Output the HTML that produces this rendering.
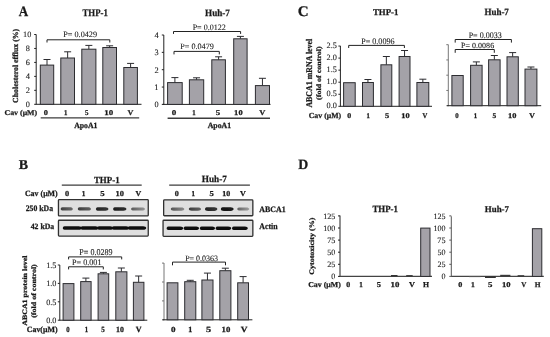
<!DOCTYPE html>
<html><head><meta charset="utf-8"><style>
html,body{margin:0;padding:0;background:#fff;}
svg{display:block;}
text{font-family:"Liberation Serif",serif;text-rendering:geometricPrecision;}
</style></head><body>
<svg width="550" height="337" viewBox="0 0 550 337">
<defs><filter id="bb" x="-20%" y="-200%" width="140%" height="500%"><feGaussianBlur stdDeviation="0.55"/></filter><linearGradient id="g1" x1="0" x2="1" y1="0" y2="0"><stop offset="0" stop-color="#3f3f3f"/><stop offset="0.5" stop-color="#555"/><stop offset="1" stop-color="#6a6a6a"/></linearGradient><linearGradient id="g2" x1="0" x2="1" y1="0" y2="0"><stop offset="0" stop-color="#3a3a3a"/><stop offset="0.5" stop-color="#4e4e4e"/><stop offset="1" stop-color="#616161"/></linearGradient><linearGradient id="g3" x1="0" x2="1" y1="0" y2="0"><stop offset="0" stop-color="#212121"/><stop offset="0.5" stop-color="#2c2c2c"/><stop offset="1" stop-color="#373737"/></linearGradient><linearGradient id="g4" x1="0" x2="1" y1="0" y2="0"><stop offset="0" stop-color="#1c1c1c"/><stop offset="0.5" stop-color="#262626"/><stop offset="1" stop-color="#2f2f2f"/></linearGradient><linearGradient id="g5" x1="0" x2="1" y1="0" y2="0"><stop offset="0" stop-color="#595959"/><stop offset="0.5" stop-color="#777"/><stop offset="1" stop-color="#949494"/></linearGradient><linearGradient id="g6" x1="0" x2="1" y1="0" y2="0"><stop offset="0" stop-color="#545454"/><stop offset="0.5" stop-color="#707070"/><stop offset="1" stop-color="#8c8c8c"/></linearGradient><linearGradient id="g7" x1="0" x2="1" y1="0" y2="0"><stop offset="0" stop-color="#3c3c3c"/><stop offset="0.5" stop-color="#505050"/><stop offset="1" stop-color="#646464"/></linearGradient><linearGradient id="g8" x1="0" x2="1" y1="0" y2="0"><stop offset="0" stop-color="#222222"/><stop offset="0.5" stop-color="#2e2e2e"/><stop offset="1" stop-color="#393939"/></linearGradient><linearGradient id="g9" x1="0" x2="1" y1="0" y2="0"><stop offset="0" stop-color="#121212"/><stop offset="0.5" stop-color="#181818"/><stop offset="1" stop-color="#1e1e1e"/></linearGradient><linearGradient id="g10" x1="0" x2="1" y1="0" y2="0"><stop offset="0" stop-color="#606060"/><stop offset="0.5" stop-color="#808080"/><stop offset="1" stop-color="#a0a0a0"/></linearGradient></defs>
<rect width="550" height="337" fill="#fff"/>
<g style="filter:blur(0.35px)">
<line x1="36.20" y1="34.50" x2="36.20" y2="104.80" stroke="#222" stroke-width="1.0"/>
<line x1="34.20" y1="104.30" x2="36.20" y2="104.30" stroke="#222" stroke-width="1.0"/>
<line x1="34.20" y1="90.34" x2="36.20" y2="90.34" stroke="#222" stroke-width="1.0"/>
<line x1="34.20" y1="76.38" x2="36.20" y2="76.38" stroke="#222" stroke-width="1.0"/>
<line x1="34.20" y1="62.42" x2="36.20" y2="62.42" stroke="#222" stroke-width="1.0"/>
<line x1="34.20" y1="48.46" x2="36.20" y2="48.46" stroke="#222" stroke-width="1.0"/>
<line x1="34.20" y1="34.50" x2="36.20" y2="34.50" stroke="#222" stroke-width="1.0"/>
<line x1="36.20" y1="104.30" x2="141.50" y2="104.30" stroke="#222" stroke-width="1.0"/>
<line x1="47.00" y1="59.50" x2="47.00" y2="65.10" stroke="#2c2c30" stroke-width="1.0"/>
<line x1="43.50" y1="59.50" x2="50.50" y2="59.50" stroke="#2c2c30" stroke-width="1.0"/>
<rect x="40.30" y="65.10" width="13.40" height="39.20" fill="#a4a2a8" stroke="#2c2c30" stroke-width="1.0"/>
<line x1="67.65" y1="51.80" x2="67.65" y2="58.00" stroke="#2c2c30" stroke-width="1.0"/>
<line x1="64.15" y1="51.80" x2="71.15" y2="51.80" stroke="#2c2c30" stroke-width="1.0"/>
<rect x="60.80" y="58.00" width="13.70" height="46.30" fill="#a4a2a8" stroke="#2c2c30" stroke-width="1.0"/>
<line x1="88.85" y1="45.40" x2="88.85" y2="49.20" stroke="#2c2c30" stroke-width="1.0"/>
<line x1="85.35" y1="45.40" x2="92.35" y2="45.40" stroke="#2c2c30" stroke-width="1.0"/>
<rect x="81.80" y="49.20" width="14.10" height="55.10" fill="#a4a2a8" stroke="#2c2c30" stroke-width="1.0"/>
<line x1="109.65" y1="45.80" x2="109.65" y2="47.50" stroke="#2c2c30" stroke-width="1.0"/>
<line x1="106.15" y1="45.80" x2="113.15" y2="45.80" stroke="#2c2c30" stroke-width="1.0"/>
<rect x="102.80" y="47.50" width="13.70" height="56.80" fill="#a4a2a8" stroke="#2c2c30" stroke-width="1.0"/>
<line x1="130.60" y1="63.40" x2="130.60" y2="67.50" stroke="#2c2c30" stroke-width="1.0"/>
<line x1="127.10" y1="63.40" x2="134.10" y2="63.40" stroke="#2c2c30" stroke-width="1.0"/>
<rect x="123.80" y="67.50" width="13.60" height="36.80" fill="#a4a2a8" stroke="#2c2c30" stroke-width="1.0"/>
<path d="M47.00,42.50 L47.00,39.80 L109.80,39.80 L109.80,42.50" fill="none" stroke="#222" stroke-width="1.0"/>
<line x1="40.70" y1="117.90" x2="139.20" y2="117.90" stroke="#3c3c3c" stroke-width="1.4"/>
<line x1="163.80" y1="35.00" x2="163.80" y2="104.90" stroke="#222" stroke-width="1.0"/>
<line x1="161.80" y1="104.40" x2="163.80" y2="104.40" stroke="#222" stroke-width="1.0"/>
<line x1="161.80" y1="87.05" x2="163.80" y2="87.05" stroke="#222" stroke-width="1.0"/>
<line x1="161.80" y1="69.70" x2="163.80" y2="69.70" stroke="#222" stroke-width="1.0"/>
<line x1="161.80" y1="52.35" x2="163.80" y2="52.35" stroke="#222" stroke-width="1.0"/>
<line x1="161.80" y1="35.00" x2="163.80" y2="35.00" stroke="#222" stroke-width="1.0"/>
<line x1="162.80" y1="104.40" x2="270.50" y2="104.40" stroke="#222" stroke-width="1.0"/>
<line x1="174.90" y1="77.60" x2="174.90" y2="82.60" stroke="#2c2c30" stroke-width="1.0"/>
<line x1="171.40" y1="77.60" x2="178.40" y2="77.60" stroke="#2c2c30" stroke-width="1.0"/>
<rect x="167.60" y="82.60" width="14.60" height="21.80" fill="#a4a2a8" stroke="#2c2c30" stroke-width="1.0"/>
<line x1="196.55" y1="77.80" x2="196.55" y2="79.80" stroke="#2c2c30" stroke-width="1.0"/>
<line x1="193.05" y1="77.80" x2="200.05" y2="77.80" stroke="#2c2c30" stroke-width="1.0"/>
<rect x="189.40" y="79.80" width="14.30" height="24.60" fill="#a4a2a8" stroke="#2c2c30" stroke-width="1.0"/>
<line x1="218.60" y1="56.80" x2="218.60" y2="59.80" stroke="#2c2c30" stroke-width="1.0"/>
<line x1="215.10" y1="56.80" x2="222.10" y2="56.80" stroke="#2c2c30" stroke-width="1.0"/>
<rect x="211.80" y="59.80" width="13.60" height="44.60" fill="#a4a2a8" stroke="#2c2c30" stroke-width="1.0"/>
<line x1="240.40" y1="36.40" x2="240.40" y2="38.80" stroke="#2c2c30" stroke-width="1.0"/>
<line x1="236.90" y1="36.40" x2="243.90" y2="36.40" stroke="#2c2c30" stroke-width="1.0"/>
<rect x="233.70" y="38.80" width="13.40" height="65.60" fill="#a4a2a8" stroke="#2c2c30" stroke-width="1.0"/>
<line x1="262.45" y1="78.30" x2="262.45" y2="85.60" stroke="#2c2c30" stroke-width="1.0"/>
<line x1="258.95" y1="78.30" x2="265.95" y2="78.30" stroke="#2c2c30" stroke-width="1.0"/>
<rect x="255.40" y="85.60" width="14.10" height="18.80" fill="#a4a2a8" stroke="#2c2c30" stroke-width="1.0"/>
<path d="M173.50,33.90 L173.50,31.50 L240.60,31.50 L240.60,33.90" fill="none" stroke="#222" stroke-width="1.0"/>
<path d="M174.00,54.40 L174.00,51.40 L219.30,51.40 L219.30,54.40" fill="none" stroke="#222" stroke-width="1.0"/>
<line x1="167.60" y1="118.20" x2="270.00" y2="118.20" stroke="#3c3c3c" stroke-width="1.4"/>
<line x1="340.40" y1="45.90" x2="340.40" y2="106.80" stroke="#222" stroke-width="1.0"/>
<line x1="338.40" y1="106.30" x2="340.40" y2="106.30" stroke="#222" stroke-width="1.0"/>
<line x1="338.40" y1="94.25" x2="340.40" y2="94.25" stroke="#222" stroke-width="1.0"/>
<line x1="338.40" y1="82.20" x2="340.40" y2="82.20" stroke="#222" stroke-width="1.0"/>
<line x1="338.40" y1="70.15" x2="340.40" y2="70.15" stroke="#222" stroke-width="1.0"/>
<line x1="338.40" y1="58.10" x2="340.40" y2="58.10" stroke="#222" stroke-width="1.0"/>
<line x1="338.40" y1="46.05" x2="340.40" y2="46.05" stroke="#222" stroke-width="1.0"/>
<line x1="340.40" y1="106.30" x2="432.00" y2="106.30" stroke="#222" stroke-width="1.0"/>
<rect x="343.60" y="82.70" width="11.60" height="23.60" fill="#a4a2a8" stroke="#2c2c30" stroke-width="1.0"/>
<line x1="367.95" y1="79.50" x2="367.95" y2="82.50" stroke="#2c2c30" stroke-width="1.0"/>
<line x1="364.45" y1="79.50" x2="371.45" y2="79.50" stroke="#2c2c30" stroke-width="1.0"/>
<rect x="362.50" y="82.50" width="10.90" height="23.80" fill="#a4a2a8" stroke="#2c2c30" stroke-width="1.0"/>
<line x1="386.35" y1="56.50" x2="386.35" y2="64.80" stroke="#2c2c30" stroke-width="1.0"/>
<line x1="382.85" y1="56.50" x2="389.85" y2="56.50" stroke="#2c2c30" stroke-width="1.0"/>
<rect x="380.90" y="64.80" width="10.90" height="41.50" fill="#a4a2a8" stroke="#2c2c30" stroke-width="1.0"/>
<line x1="404.55" y1="50.50" x2="404.55" y2="56.50" stroke="#2c2c30" stroke-width="1.0"/>
<line x1="401.05" y1="50.50" x2="408.05" y2="50.50" stroke="#2c2c30" stroke-width="1.0"/>
<rect x="399.10" y="56.50" width="10.90" height="49.80" fill="#a4a2a8" stroke="#2c2c30" stroke-width="1.0"/>
<line x1="422.85" y1="79.20" x2="422.85" y2="82.50" stroke="#2c2c30" stroke-width="1.0"/>
<line x1="419.35" y1="79.20" x2="426.35" y2="79.20" stroke="#2c2c30" stroke-width="1.0"/>
<rect x="416.90" y="82.50" width="11.90" height="23.80" fill="#a4a2a8" stroke="#2c2c30" stroke-width="1.0"/>
<path d="M348.70,48.00 L348.70,45.40 L404.40,45.40 L404.40,48.00" fill="none" stroke="#222" stroke-width="1.0"/>
<line x1="448.30" y1="44.60" x2="448.30" y2="106.20" stroke="#777" stroke-width="1.0"/>
<line x1="446.30" y1="105.70" x2="448.30" y2="105.70" stroke="#777" stroke-width="1.0"/>
<line x1="446.30" y1="90.45" x2="448.30" y2="90.45" stroke="#777" stroke-width="1.0"/>
<line x1="446.30" y1="75.20" x2="448.30" y2="75.20" stroke="#777" stroke-width="1.0"/>
<line x1="446.30" y1="59.95" x2="448.30" y2="59.95" stroke="#777" stroke-width="1.0"/>
<line x1="446.30" y1="44.70" x2="448.30" y2="44.70" stroke="#777" stroke-width="1.0"/>
<line x1="447.10" y1="105.70" x2="541.20" y2="105.70" stroke="#222" stroke-width="1.0"/>
<rect x="451.90" y="75.50" width="11.30" height="30.20" fill="#a4a2a8" stroke="#2c2c30" stroke-width="1.0"/>
<line x1="476.35" y1="61.90" x2="476.35" y2="65.30" stroke="#2c2c30" stroke-width="1.0"/>
<line x1="472.85" y1="61.90" x2="479.85" y2="61.90" stroke="#2c2c30" stroke-width="1.0"/>
<rect x="470.60" y="65.30" width="11.50" height="40.40" fill="#a4a2a8" stroke="#2c2c30" stroke-width="1.0"/>
<line x1="494.35" y1="55.50" x2="494.35" y2="59.80" stroke="#2c2c30" stroke-width="1.0"/>
<line x1="490.85" y1="55.50" x2="497.85" y2="55.50" stroke="#2c2c30" stroke-width="1.0"/>
<rect x="488.60" y="59.80" width="11.50" height="45.90" fill="#a4a2a8" stroke="#2c2c30" stroke-width="1.0"/>
<line x1="512.65" y1="52.60" x2="512.65" y2="56.80" stroke="#2c2c30" stroke-width="1.0"/>
<line x1="509.15" y1="52.60" x2="516.15" y2="52.60" stroke="#2c2c30" stroke-width="1.0"/>
<rect x="507.00" y="56.80" width="11.30" height="48.90" fill="#a4a2a8" stroke="#2c2c30" stroke-width="1.0"/>
<line x1="530.95" y1="67.00" x2="530.95" y2="69.10" stroke="#2c2c30" stroke-width="1.0"/>
<line x1="527.45" y1="67.00" x2="534.45" y2="67.00" stroke="#2c2c30" stroke-width="1.0"/>
<rect x="525.00" y="69.10" width="11.90" height="36.60" fill="#a4a2a8" stroke="#2c2c30" stroke-width="1.0"/>
<path d="M455.20,42.60 L455.20,39.50 L511.40,39.50 L511.40,42.60" fill="none" stroke="#222" stroke-width="1.0"/>
<path d="M455.20,52.80 L455.20,49.50 L494.30,49.50 L494.30,52.80" fill="none" stroke="#222" stroke-width="1.0"/>
<line x1="61.80" y1="185.10" x2="141.70" y2="185.10" stroke="#3c3c3c" stroke-width="1.4"/>
<line x1="169.20" y1="185.10" x2="249.90" y2="185.10" stroke="#3c3c3c" stroke-width="1.4"/>
<rect x="58.45" y="199.55" width="89.80" height="16.40" fill="#dfdfdf" stroke="#303030" stroke-width="1.3" rx="0.8"/>
<rect x="58.45" y="220.25" width="89.80" height="15.80" fill="#dfdfdf" stroke="#303030" stroke-width="1.3" rx="0.8"/>
<rect x="163.65" y="199.85" width="89.20" height="15.90" fill="#dfdfdf" stroke="#303030" stroke-width="1.3" rx="0.8"/>
<rect x="163.05" y="220.25" width="89.80" height="16.10" fill="#dfdfdf" stroke="#303030" stroke-width="1.3" rx="0.8"/>
<path d="M60.70,208.90 C60.70,207.62 61.90,207.30 63.70,207.30 L69.80,207.30 C71.60,207.30 72.80,207.94 72.80,208.90 C72.80,209.86 71.60,210.50 69.80,210.50 L63.70,210.50 C61.90,210.50 60.70,210.18 60.70,208.90 Z" fill="url(#g1)" filter="url(#bb)"/>
<path d="M77.80,208.90 C77.80,207.62 79.00,207.30 80.80,207.30 L87.90,207.30 C89.70,207.30 90.90,207.94 90.90,208.90 C90.90,209.86 89.70,210.50 87.90,210.50 L80.80,210.50 C79.00,210.50 77.80,210.18 77.80,208.90 Z" fill="url(#g2)" filter="url(#bb)"/>
<path d="M95.90,208.90 C95.90,207.50 97.10,207.15 98.90,207.15 L105.40,207.15 C107.20,207.15 108.40,207.85 108.40,208.90 C108.40,209.95 107.20,210.65 105.40,210.65 L98.90,210.65 C97.10,210.65 95.90,210.30 95.90,208.90 Z" fill="url(#g3)" filter="url(#bb)"/>
<path d="M113.10,208.90 C113.10,207.50 114.30,207.15 116.10,207.15 L123.40,207.15 C125.20,207.15 126.40,207.85 126.40,208.90 C126.40,209.95 125.20,210.65 123.40,210.65 L116.10,210.65 C114.30,210.65 113.10,210.30 113.10,208.90 Z" fill="url(#g4)" filter="url(#bb)"/>
<path d="M131.10,208.90 C131.10,207.70 132.30,207.40 134.10,207.40 L142.00,207.40 C143.80,207.40 145.00,208.00 145.00,208.90 C145.00,209.80 143.80,210.40 142.00,210.40 L134.10,210.40 C132.30,210.40 131.10,210.10 131.10,208.90 Z" fill="url(#g5)" filter="url(#bb)"/>
<path d="M62.80,228.00 C62.80,226.56 64.00,226.20 65.80,226.20 L78.80,226.20 C80.60,226.20 81.80,226.92 81.80,228.00 C81.80,229.08 80.60,229.80 78.80,229.80 L65.80,229.80 C64.00,229.80 62.80,229.44 62.80,228.00 Z" fill="#111" filter="url(#bb)"/>
<path d="M80.60,228.00 C80.60,226.56 81.80,226.20 83.60,226.20 L95.50,226.20 C97.30,226.20 98.50,226.92 98.50,228.00 C98.50,229.08 97.30,229.80 95.50,229.80 L83.60,229.80 C81.80,229.80 80.60,229.44 80.60,228.00 Z" fill="#111" filter="url(#bb)"/>
<path d="M97.30,228.00 C97.30,226.56 98.50,226.20 100.30,226.20 L110.20,226.20 C112.00,226.20 113.20,226.92 113.20,228.00 C113.20,229.08 112.00,229.80 110.20,229.80 L100.30,229.80 C98.50,229.80 97.30,229.44 97.30,228.00 Z" fill="#111" filter="url(#bb)"/>
<path d="M112.00,228.00 C112.00,226.56 113.20,226.20 115.00,226.20 L126.20,226.20 C128.00,226.20 129.20,226.92 129.20,228.00 C129.20,229.08 128.00,229.80 126.20,229.80 L115.00,229.80 C113.20,229.80 112.00,229.44 112.00,228.00 Z" fill="#111" filter="url(#bb)"/>
<path d="M128.00,228.00 C128.00,226.56 129.20,226.20 131.00,226.20 L143.20,226.20 C145.00,226.20 146.20,226.92 146.20,228.00 C146.20,229.08 145.00,229.80 143.20,229.80 L131.00,229.80 C129.20,229.80 128.00,229.44 128.00,228.00 Z" fill="#111" filter="url(#bb)"/>
<path d="M170.80,209.10 C170.80,207.78 172.00,207.45 173.80,207.45 L181.30,207.45 C183.10,207.45 184.30,208.11 184.30,209.10 C184.30,210.09 183.10,210.75 181.30,210.75 L173.80,210.75 C172.00,210.75 170.80,210.42 170.80,209.10 Z" fill="url(#g6)" filter="url(#bb)"/>
<path d="M188.80,209.10 C188.80,207.74 190.00,207.40 191.80,207.40 L198.00,207.40 C199.80,207.40 201.00,208.08 201.00,209.10 C201.00,210.12 199.80,210.80 198.00,210.80 L191.80,210.80 C190.00,210.80 188.80,210.46 188.80,209.10 Z" fill="url(#g7)" filter="url(#bb)"/>
<path d="M205.00,209.10 C205.00,207.66 206.20,207.30 208.00,207.30 L214.30,207.30 C216.10,207.30 217.30,208.02 217.30,209.10 C217.30,210.18 216.10,210.90 214.30,210.90 L208.00,210.90 C206.20,210.90 205.00,210.54 205.00,209.10 Z" fill="url(#g8)" filter="url(#bb)"/>
<path d="M220.90,209.10 C220.90,207.62 222.10,207.25 223.90,207.25 L230.60,207.25 C232.40,207.25 233.60,207.99 233.60,209.10 C233.60,210.21 232.40,210.95 230.60,210.95 L223.90,210.95 C222.10,210.95 220.90,210.58 220.90,209.10 Z" fill="url(#g9)" filter="url(#bb)"/>
<path d="M237.30,209.10 C237.30,207.90 238.50,207.60 240.30,207.60 L246.30,207.60 C248.10,207.60 249.30,208.20 249.30,209.10 C249.30,210.00 248.10,210.60 246.30,210.60 L240.30,210.60 C238.50,210.60 237.30,210.30 237.30,209.10 Z" fill="url(#g10)" filter="url(#bb)"/>
<path d="M166.60,228.30 C166.60,226.86 167.80,226.50 169.60,226.50 L180.20,226.50 C182.00,226.50 183.20,227.22 183.20,228.30 C183.20,229.38 182.00,230.10 180.20,230.10 L169.60,230.10 C167.80,230.10 166.60,229.74 166.60,228.30 Z" fill="#111" filter="url(#bb)"/>
<path d="M183.60,228.30 C183.60,226.86 184.80,226.50 186.60,226.50 L196.00,226.50 C197.80,226.50 199.00,227.22 199.00,228.30 C199.00,229.38 197.80,230.10 196.00,230.10 L186.60,230.10 C184.80,230.10 183.60,229.74 183.60,228.30 Z" fill="#111" filter="url(#bb)"/>
<path d="M199.80,228.30 C199.80,226.86 201.00,226.50 202.80,226.50 L212.00,226.50 C213.80,226.50 215.00,227.22 215.00,228.30 C215.00,229.38 213.80,230.10 212.00,230.10 L202.80,230.10 C201.00,230.10 199.80,229.74 199.80,228.30 Z" fill="#111" filter="url(#bb)"/>
<path d="M215.60,228.30 C215.60,226.86 216.80,226.50 218.60,226.50 L228.20,226.50 C230.00,226.50 231.20,227.22 231.20,228.30 C231.20,229.38 230.00,230.10 228.20,230.10 L218.60,230.10 C216.80,230.10 215.60,229.74 215.60,228.30 Z" fill="#111" filter="url(#bb)"/>
<path d="M232.00,228.30 C232.00,226.86 233.20,226.50 235.00,226.50 L244.80,226.50 C246.60,226.50 247.80,227.22 247.80,228.30 C247.80,229.38 246.60,230.10 244.80,230.10 L235.00,230.10 C233.20,230.10 232.00,229.74 232.00,228.30 Z" fill="#111" filter="url(#bb)"/>
<line x1="59.80" y1="265.00" x2="59.80" y2="320.70" stroke="#222" stroke-width="1.0"/>
<line x1="57.80" y1="320.20" x2="59.80" y2="320.20" stroke="#222" stroke-width="1.0"/>
<line x1="57.80" y1="301.80" x2="59.80" y2="301.80" stroke="#222" stroke-width="1.0"/>
<line x1="57.80" y1="283.40" x2="59.80" y2="283.40" stroke="#222" stroke-width="1.0"/>
<line x1="57.80" y1="265.00" x2="59.80" y2="265.00" stroke="#222" stroke-width="1.0"/>
<line x1="59.80" y1="320.20" x2="147.30" y2="320.20" stroke="#222" stroke-width="1.0"/>
<rect x="63.10" y="283.60" width="10.80" height="36.60" fill="#a4a2a8" stroke="#2c2c30" stroke-width="1.0"/>
<line x1="85.90" y1="278.10" x2="85.90" y2="281.60" stroke="#2c2c30" stroke-width="1.0"/>
<line x1="82.40" y1="278.10" x2="89.40" y2="278.10" stroke="#2c2c30" stroke-width="1.0"/>
<rect x="80.70" y="281.60" width="10.40" height="38.60" fill="#a4a2a8" stroke="#2c2c30" stroke-width="1.0"/>
<line x1="103.40" y1="272.40" x2="103.40" y2="273.80" stroke="#2c2c30" stroke-width="1.0"/>
<line x1="99.90" y1="272.40" x2="106.90" y2="272.40" stroke="#2c2c30" stroke-width="1.0"/>
<rect x="98.10" y="273.80" width="10.60" height="46.40" fill="#a4a2a8" stroke="#2c2c30" stroke-width="1.0"/>
<line x1="121.35" y1="268.00" x2="121.35" y2="271.80" stroke="#2c2c30" stroke-width="1.0"/>
<line x1="117.85" y1="268.00" x2="124.85" y2="268.00" stroke="#2c2c30" stroke-width="1.0"/>
<rect x="115.80" y="271.80" width="11.10" height="48.40" fill="#a4a2a8" stroke="#2c2c30" stroke-width="1.0"/>
<line x1="138.65" y1="276.00" x2="138.65" y2="282.30" stroke="#2c2c30" stroke-width="1.0"/>
<line x1="135.15" y1="276.00" x2="142.15" y2="276.00" stroke="#2c2c30" stroke-width="1.0"/>
<rect x="133.40" y="282.30" width="10.50" height="37.90" fill="#a4a2a8" stroke="#2c2c30" stroke-width="1.0"/>
<path d="M68.60,259.40 L68.60,256.90 L121.70,256.90 L121.70,259.40" fill="none" stroke="#222" stroke-width="1.0"/>
<path d="M68.60,269.40 L68.60,266.80 L103.30,266.80 L103.30,269.40" fill="none" stroke="#222" stroke-width="1.0"/>
<line x1="164.00" y1="263.00" x2="164.00" y2="320.30" stroke="#777" stroke-width="1.0"/>
<line x1="162.00" y1="319.80" x2="164.00" y2="319.80" stroke="#777" stroke-width="1.0"/>
<line x1="162.00" y1="300.90" x2="164.00" y2="300.90" stroke="#777" stroke-width="1.0"/>
<line x1="162.00" y1="282.00" x2="164.00" y2="282.00" stroke="#777" stroke-width="1.0"/>
<line x1="162.00" y1="263.10" x2="164.00" y2="263.10" stroke="#777" stroke-width="1.0"/>
<line x1="162.60" y1="319.80" x2="252.40" y2="319.80" stroke="#222" stroke-width="1.0"/>
<rect x="167.10" y="282.80" width="10.80" height="37.00" fill="#a4a2a8" stroke="#2c2c30" stroke-width="1.0"/>
<line x1="190.25" y1="280.30" x2="190.25" y2="281.70" stroke="#2c2c30" stroke-width="1.0"/>
<line x1="186.75" y1="280.30" x2="193.75" y2="280.30" stroke="#2c2c30" stroke-width="1.0"/>
<rect x="184.70" y="281.70" width="11.10" height="38.10" fill="#a4a2a8" stroke="#2c2c30" stroke-width="1.0"/>
<line x1="207.45" y1="273.10" x2="207.45" y2="280.00" stroke="#2c2c30" stroke-width="1.0"/>
<line x1="203.95" y1="273.10" x2="210.95" y2="273.10" stroke="#2c2c30" stroke-width="1.0"/>
<rect x="201.90" y="280.00" width="11.10" height="39.80" fill="#a4a2a8" stroke="#2c2c30" stroke-width="1.0"/>
<line x1="225.35" y1="268.20" x2="225.35" y2="270.70" stroke="#2c2c30" stroke-width="1.0"/>
<line x1="221.85" y1="268.20" x2="228.85" y2="268.20" stroke="#2c2c30" stroke-width="1.0"/>
<rect x="219.80" y="270.70" width="11.10" height="49.10" fill="#a4a2a8" stroke="#2c2c30" stroke-width="1.0"/>
<line x1="243.10" y1="276.60" x2="243.10" y2="282.80" stroke="#2c2c30" stroke-width="1.0"/>
<line x1="239.60" y1="276.60" x2="246.60" y2="276.60" stroke="#2c2c30" stroke-width="1.0"/>
<rect x="237.70" y="282.80" width="10.80" height="37.00" fill="#a4a2a8" stroke="#2c2c30" stroke-width="1.0"/>
<path d="M172.50,265.30 L172.50,262.10 L225.50,262.10 L225.50,265.30" fill="none" stroke="#222" stroke-width="1.0"/>
<line x1="340.00" y1="215.50" x2="340.00" y2="276.90" stroke="#222" stroke-width="1.0"/>
<line x1="338.00" y1="276.40" x2="340.00" y2="276.40" stroke="#222" stroke-width="1.0"/>
<line x1="338.00" y1="264.30" x2="340.00" y2="264.30" stroke="#222" stroke-width="1.0"/>
<line x1="338.00" y1="252.20" x2="340.00" y2="252.20" stroke="#222" stroke-width="1.0"/>
<line x1="338.00" y1="240.10" x2="340.00" y2="240.10" stroke="#222" stroke-width="1.0"/>
<line x1="338.00" y1="228.00" x2="340.00" y2="228.00" stroke="#222" stroke-width="1.0"/>
<line x1="338.00" y1="215.90" x2="340.00" y2="215.90" stroke="#222" stroke-width="1.0"/>
<line x1="340.00" y1="276.40" x2="432.00" y2="276.40" stroke="#444" stroke-width="1.4"/>
<rect x="391.00" y="275.00" width="6.50" height="1.40" fill="#333"/>
<rect x="406.20" y="275.10" width="6.50" height="1.30" fill="#333"/>
<rect x="420.70" y="228.10" width="9.30" height="48.30" fill="#a4a2a8" stroke="#2c2c30" stroke-width="1.0"/>
<line x1="451.30" y1="216.30" x2="451.30" y2="276.90" stroke="#555" stroke-width="1.0"/>
<line x1="449.30" y1="276.40" x2="451.30" y2="276.40" stroke="#555" stroke-width="1.0"/>
<line x1="449.30" y1="264.30" x2="451.30" y2="264.30" stroke="#555" stroke-width="1.0"/>
<line x1="449.30" y1="252.20" x2="451.30" y2="252.20" stroke="#555" stroke-width="1.0"/>
<line x1="449.30" y1="240.10" x2="451.30" y2="240.10" stroke="#555" stroke-width="1.0"/>
<line x1="449.30" y1="228.00" x2="451.30" y2="228.00" stroke="#555" stroke-width="1.0"/>
<line x1="449.30" y1="215.90" x2="451.30" y2="215.90" stroke="#555" stroke-width="1.0"/>
<line x1="451.30" y1="276.40" x2="543.80" y2="276.40" stroke="#444" stroke-width="1.4"/>
<rect x="500.20" y="274.80" width="10.20" height="1.60" fill="#3a3a3a"/>
<rect x="517.60" y="275.20" width="6.60" height="1.20" fill="#333"/>
<rect x="469.00" y="276.20" width="11.50" height="0.90" fill="#555"/>
<rect x="485.00" y="276.20" width="10.80" height="1.80" fill="#333"/>
<rect x="532.40" y="228.70" width="9.40" height="47.70" fill="#a4a2a8" stroke="#2c2c30" stroke-width="1.0"/>
<text transform="translate(18.70,15.80) scale(0.9125,1)" font-size="14.31" font-weight="bold" fill="#1a1a1a" stroke="#1a1a1a" stroke-width="0.25">A</text>
<text transform="translate(82.41,15.60) scale(0.8704,1)" font-size="10.15" font-weight="bold" fill="#1a1a1a" stroke="#1a1a1a" stroke-width="0.25">THP-1</text>
<text transform="translate(25.74,106.54) scale(1.0000,1)" font-size="8.24" font-weight="normal" fill="#1a1a1a" stroke="#1a1a1a" stroke-width="0.1">0</text>
<text transform="translate(25.75,92.66) scale(1.0000,1)" font-size="8.36" font-weight="normal" fill="#1a1a1a" stroke="#1a1a1a" stroke-width="0.1">2</text>
<text transform="translate(25.68,78.70) scale(1.0000,1)" font-size="8.48" font-weight="normal" fill="#1a1a1a" stroke="#1a1a1a" stroke-width="0.1">4</text>
<text transform="translate(25.66,64.66) scale(1.0000,1)" font-size="8.24" font-weight="normal" fill="#1a1a1a" stroke="#1a1a1a" stroke-width="0.1">6</text>
<text transform="translate(25.74,50.70) scale(1.0000,1)" font-size="8.24" font-weight="normal" fill="#1a1a1a" stroke="#1a1a1a" stroke-width="0.1">8</text>
<text transform="translate(23.08,36.74) scale(1.0000,1)" font-size="8.24" font-weight="normal" fill="#1a1a1a" stroke="#1a1a1a" stroke-width="0.1">10</text>
<text transform="translate(17.70,102.91) rotate(-90) scale(1.0104,1)" font-size="7.74" font-weight="bold" fill="#1a1a1a" stroke="#1a1a1a" stroke-width="0.25">Cholesterol efflux (%)</text>
<text transform="translate(63.24,37.40) scale(0.9902,1)" font-size="8.31" font-weight="normal" fill="#1a1a1a" stroke="#1a1a1a" stroke-width="0.1">P= 0.0429</text>
<text transform="translate(4.48,115.40) scale(1.0918,1)" font-size="7.23" font-weight="bold" fill="#1a1a1a" stroke="#1a1a1a" stroke-width="0.25">Cav (μM)</text>
<text transform="translate(43.75,115.00) scale(1.1387,1)" font-size="7.38" font-weight="bold" fill="#1a1a1a" stroke="#1a1a1a" stroke-width="0.25">0</text>
<text transform="translate(63.96,115.00) scale(0.9150,1)" font-size="7.38" font-weight="bold" fill="#1a1a1a" stroke="#1a1a1a" stroke-width="0.25">1</text>
<text transform="translate(85.02,115.00) scale(0.9448,1)" font-size="7.38" font-weight="bold" fill="#1a1a1a" stroke="#1a1a1a" stroke-width="0.25">5</text>
<text transform="translate(104.18,115.00) scale(1.2172,1)" font-size="7.38" font-weight="bold" fill="#1a1a1a" stroke="#1a1a1a" stroke-width="0.25">10</text>
<text transform="translate(127.52,115.00) scale(1.1062,1)" font-size="7.38" font-weight="bold" fill="#1a1a1a" stroke="#1a1a1a" stroke-width="0.25">V</text>
<text transform="translate(74.20,128.30) scale(0.9702,1)" font-size="8.00" font-weight="bold" fill="#1a1a1a" stroke="#1a1a1a" stroke-width="0.25">ApoA1</text>
<text transform="translate(205.01,15.60) scale(0.9463,1)" font-size="9.69" font-weight="bold" fill="#1a1a1a" stroke="#1a1a1a" stroke-width="0.25">Huh-7</text>
<text transform="translate(154.44,107.14) scale(1.0000,1)" font-size="8.24" font-weight="normal" fill="#1a1a1a" stroke="#1a1a1a" stroke-width="0.1">0</text>
<text transform="translate(154.29,89.95) scale(1.0000,1)" font-size="8.48" font-weight="normal" fill="#1a1a1a" stroke="#1a1a1a" stroke-width="0.1">1</text>
<text transform="translate(154.45,72.52) scale(1.0000,1)" font-size="8.36" font-weight="normal" fill="#1a1a1a" stroke="#1a1a1a" stroke-width="0.1">2</text>
<text transform="translate(154.40,55.09) scale(1.0000,1)" font-size="8.24" font-weight="normal" fill="#1a1a1a" stroke="#1a1a1a" stroke-width="0.1">3</text>
<text transform="translate(154.38,37.82) scale(1.0000,1)" font-size="8.48" font-weight="normal" fill="#1a1a1a" stroke="#1a1a1a" stroke-width="0.1">4</text>
<text transform="translate(192.64,29.50) scale(0.9719,1)" font-size="8.31" font-weight="normal" fill="#1a1a1a" stroke="#1a1a1a" stroke-width="0.1">P= 0.0122</text>
<text transform="translate(180.34,49.00) scale(0.9998,1)" font-size="8.15" font-weight="normal" fill="#1a1a1a" stroke="#1a1a1a" stroke-width="0.1">P= 0.0479</text>
<text transform="translate(171.73,115.00) scale(1.2311,1)" font-size="7.38" font-weight="bold" fill="#1a1a1a" stroke="#1a1a1a" stroke-width="0.25">0</text>
<text transform="translate(192.16,115.00) scale(0.9150,1)" font-size="7.38" font-weight="bold" fill="#1a1a1a" stroke="#1a1a1a" stroke-width="0.25">1</text>
<text transform="translate(215.65,115.00) scale(1.1967,1)" font-size="7.38" font-weight="bold" fill="#1a1a1a" stroke="#1a1a1a" stroke-width="0.25">5</text>
<text transform="translate(234.12,115.00) scale(1.1564,1)" font-size="7.38" font-weight="bold" fill="#1a1a1a" stroke="#1a1a1a" stroke-width="0.25">10</text>
<text transform="translate(259.32,115.00) scale(1.1444,1)" font-size="7.38" font-weight="bold" fill="#1a1a1a" stroke="#1a1a1a" stroke-width="0.25">V</text>
<text transform="translate(207.70,128.30) scale(0.9787,1)" font-size="8.00" font-weight="bold" fill="#1a1a1a" stroke="#1a1a1a" stroke-width="0.25">ApoA1</text>
<text transform="translate(297.80,16.00) scale(1.0319,1)" font-size="14.62" font-weight="bold" fill="#1a1a1a" stroke="#1a1a1a" stroke-width="0.25">C</text>
<text transform="translate(372.91,15.40) scale(0.9905,1)" font-size="8.92" font-weight="bold" fill="#1a1a1a" stroke="#1a1a1a" stroke-width="0.25">THP-1</text>
<text transform="translate(326.55,108.44) scale(1.0000,1)" font-size="8.24" font-weight="normal" fill="#1a1a1a" stroke="#1a1a1a" stroke-width="0.1">0.0</text>
<text transform="translate(326.55,96.39) scale(1.0000,1)" font-size="8.24" font-weight="normal" fill="#1a1a1a" stroke="#1a1a1a" stroke-width="0.1">0.5</text>
<text transform="translate(326.55,84.34) scale(1.0000,1)" font-size="8.24" font-weight="normal" fill="#1a1a1a" stroke="#1a1a1a" stroke-width="0.1">1.0</text>
<text transform="translate(326.55,72.29) scale(1.0000,1)" font-size="8.24" font-weight="normal" fill="#1a1a1a" stroke="#1a1a1a" stroke-width="0.1">1.5</text>
<text transform="translate(326.55,60.24) scale(1.0000,1)" font-size="8.24" font-weight="normal" fill="#1a1a1a" stroke="#1a1a1a" stroke-width="0.1">2.0</text>
<text transform="translate(326.55,48.19) scale(1.0000,1)" font-size="8.24" font-weight="normal" fill="#1a1a1a" stroke="#1a1a1a" stroke-width="0.1">2.5</text>
<text transform="translate(312.23,107.60) rotate(-90) scale(0.9051,1)" font-size="8.73" font-weight="bold" fill="#1a1a1a" stroke="#1a1a1a" stroke-width="0.25">ABCA1 mRNA level</text>
<text transform="translate(321.21,99.92) rotate(-90) scale(1.1819,1)" font-size="6.77" font-weight="bold" fill="#1a1a1a" stroke="#1a1a1a" stroke-width="0.25">(fold of control)</text>
<text transform="translate(361.14,43.90) scale(0.9588,1)" font-size="8.46" font-weight="normal" fill="#1a1a1a" stroke="#1a1a1a" stroke-width="0.1">P= 0.0096</text>
<text transform="translate(308.69,118.20) scale(1.0199,1)" font-size="7.69" font-weight="bold" fill="#1a1a1a" stroke="#1a1a1a" stroke-width="0.25">Cav (μM)</text>
<text transform="translate(347.26,117.60) scale(1.1001,1)" font-size="7.23" font-weight="bold" fill="#1a1a1a" stroke="#1a1a1a" stroke-width="0.25">0</text>
<text transform="translate(366.46,117.60) scale(0.9344,1)" font-size="7.23" font-weight="bold" fill="#1a1a1a" stroke="#1a1a1a" stroke-width="0.25">1</text>
<text transform="translate(385.07,117.60) scale(1.1578,1)" font-size="7.23" font-weight="bold" fill="#1a1a1a" stroke="#1a1a1a" stroke-width="0.25">5</text>
<text transform="translate(401.23,117.60) scale(1.1654,1)" font-size="7.23" font-weight="bold" fill="#1a1a1a" stroke="#1a1a1a" stroke-width="0.25">10</text>
<text transform="translate(422.43,117.60) scale(0.9155,1)" font-size="7.23" font-weight="bold" fill="#1a1a1a" stroke="#1a1a1a" stroke-width="0.25">V</text>
<text transform="translate(484.41,15.40) scale(0.9421,1)" font-size="9.54" font-weight="bold" fill="#1a1a1a" stroke="#1a1a1a" stroke-width="0.25">Huh-7</text>
<text transform="translate(468.64,37.80) scale(0.9524,1)" font-size="8.46" font-weight="normal" fill="#1a1a1a" stroke="#1a1a1a" stroke-width="0.1">P= 0.0033</text>
<text transform="translate(461.04,48.00) scale(1.0246,1)" font-size="7.85" font-weight="normal" fill="#1a1a1a" stroke="#1a1a1a" stroke-width="0.1">P= 0.0086</text>
<text transform="translate(455.20,117.60) scale(0.9429,1)" font-size="7.23" font-weight="bold" fill="#1a1a1a" stroke="#1a1a1a" stroke-width="0.25">0</text>
<text transform="translate(473.66,117.60) scale(0.9344,1)" font-size="7.23" font-weight="bold" fill="#1a1a1a" stroke="#1a1a1a" stroke-width="0.25">1</text>
<text transform="translate(492.50,117.60) scale(1.0292,1)" font-size="7.23" font-weight="bold" fill="#1a1a1a" stroke="#1a1a1a" stroke-width="0.25">5</text>
<text transform="translate(507.93,117.60) scale(1.1654,1)" font-size="7.23" font-weight="bold" fill="#1a1a1a" stroke="#1a1a1a" stroke-width="0.25">10</text>
<text transform="translate(529.32,117.60) scale(1.0713,1)" font-size="7.23" font-weight="bold" fill="#1a1a1a" stroke="#1a1a1a" stroke-width="0.25">V</text>
<text transform="translate(18.76,169.00) scale(1.0317,1)" font-size="13.54" font-weight="bold" fill="#1a1a1a" stroke="#1a1a1a" stroke-width="0.25">B</text>
<text transform="translate(93.91,182.80) scale(0.9651,1)" font-size="9.23" font-weight="bold" fill="#1a1a1a" stroke="#1a1a1a" stroke-width="0.25">THP-1</text>
<text transform="translate(201.81,182.30) scale(0.9812,1)" font-size="9.38" font-weight="bold" fill="#1a1a1a" stroke="#1a1a1a" stroke-width="0.25">Huh-7</text>
<text transform="translate(24.88,195.50) scale(0.9743,1)" font-size="8.15" font-weight="bold" fill="#1a1a1a" stroke="#1a1a1a" stroke-width="0.25">Cav (μM)</text>
<text transform="translate(64.95,195.60) scale(1.1155,1)" font-size="7.54" font-weight="bold" fill="#1a1a1a" stroke="#1a1a1a" stroke-width="0.25">0</text>
<text transform="translate(81.82,195.60) scale(0.9680,1)" font-size="7.54" font-weight="bold" fill="#1a1a1a" stroke="#1a1a1a" stroke-width="0.25">1</text>
<text transform="translate(100.25,195.60) scale(1.1723,1)" font-size="7.54" font-weight="bold" fill="#1a1a1a" stroke="#1a1a1a" stroke-width="0.25">5</text>
<text transform="translate(115.53,195.60) scale(1.1179,1)" font-size="7.54" font-weight="bold" fill="#1a1a1a" stroke="#1a1a1a" stroke-width="0.25">10</text>
<text transform="translate(135.52,195.60) scale(1.0463,1)" font-size="7.54" font-weight="bold" fill="#1a1a1a" stroke="#1a1a1a" stroke-width="0.25">V</text>
<text transform="translate(174.75,195.60) scale(1.0853,1)" font-size="7.54" font-weight="bold" fill="#1a1a1a" stroke="#1a1a1a" stroke-width="0.25">0</text>
<text transform="translate(191.44,195.60) scale(0.9322,1)" font-size="7.54" font-weight="bold" fill="#1a1a1a" stroke="#1a1a1a" stroke-width="0.25">1</text>
<text transform="translate(209.46,195.60) scale(1.1414,1)" font-size="7.54" font-weight="bold" fill="#1a1a1a" stroke="#1a1a1a" stroke-width="0.25">5</text>
<text transform="translate(222.26,195.60) scale(1.0582,1)" font-size="7.54" font-weight="bold" fill="#1a1a1a" stroke="#1a1a1a" stroke-width="0.25">10</text>
<text transform="translate(239.92,195.60) scale(1.0650,1)" font-size="7.54" font-weight="bold" fill="#1a1a1a" stroke="#1a1a1a" stroke-width="0.25">V</text>
<text transform="translate(25.69,210.80) scale(0.9174,1)" font-size="8.46" font-weight="bold" fill="#1a1a1a" stroke="#1a1a1a" stroke-width="0.25">250 kDa</text>
<text transform="translate(30.72,228.90) scale(0.9540,1)" font-size="8.15" font-weight="bold" fill="#1a1a1a" stroke="#1a1a1a" stroke-width="0.25">42 kDa</text>
<text transform="translate(259.30,211.50) scale(0.9531,1)" font-size="8.31" font-weight="bold" fill="#1a1a1a" stroke="#1a1a1a" stroke-width="0.25">ABCA1</text>
<text transform="translate(259.30,229.00) scale(0.9079,1)" font-size="8.62" font-weight="bold" fill="#1a1a1a" stroke="#1a1a1a" stroke-width="0.25">Actin</text>
<text transform="translate(46.15,323.24) scale(1.0000,1)" font-size="8.24" font-weight="normal" fill="#1a1a1a" stroke="#1a1a1a" stroke-width="0.1">0.0</text>
<text transform="translate(46.15,304.84) scale(1.0000,1)" font-size="8.24" font-weight="normal" fill="#1a1a1a" stroke="#1a1a1a" stroke-width="0.1">0.5</text>
<text transform="translate(46.15,286.44) scale(1.0000,1)" font-size="8.24" font-weight="normal" fill="#1a1a1a" stroke="#1a1a1a" stroke-width="0.1">1.0</text>
<text transform="translate(46.15,268.04) scale(1.0000,1)" font-size="8.24" font-weight="normal" fill="#1a1a1a" stroke="#1a1a1a" stroke-width="0.1">1.5</text>
<text transform="translate(26.58,325.80) rotate(-90) scale(1.1688,1)" font-size="6.78" font-weight="bold" fill="#1a1a1a" stroke="#1a1a1a" stroke-width="0.25">ABCA1 protein level</text>
<text transform="translate(36.41,317.82) rotate(-90) scale(1.1819,1)" font-size="6.77" font-weight="bold" fill="#1a1a1a" stroke="#1a1a1a" stroke-width="0.25">(fold of control)</text>
<text transform="translate(79.34,255.00) scale(0.9054,1)" font-size="8.92" font-weight="normal" fill="#1a1a1a" stroke="#1a1a1a" stroke-width="0.1">P= 0.0289</text>
<text transform="translate(72.04,265.30) scale(0.9614,1)" font-size="8.46" font-weight="normal" fill="#1a1a1a" stroke="#1a1a1a" stroke-width="0.1">P= 0.001</text>
<text transform="translate(26.78,331.80) scale(0.9860,1)" font-size="8.00" font-weight="bold" fill="#1a1a1a" stroke="#1a1a1a" stroke-width="0.25">Cav(μM)</text>
<text transform="translate(66.30,331.60) scale(0.8690,1)" font-size="7.85" font-weight="bold" fill="#1a1a1a" stroke="#1a1a1a" stroke-width="0.25">0</text>
<text transform="translate(84.76,331.60) scale(0.8612,1)" font-size="7.85" font-weight="bold" fill="#1a1a1a" stroke="#1a1a1a" stroke-width="0.25">1</text>
<text transform="translate(101.32,331.60) scale(0.8892,1)" font-size="7.85" font-weight="bold" fill="#1a1a1a" stroke="#1a1a1a" stroke-width="0.25">5</text>
<text transform="translate(116.07,331.60) scale(1.0024,1)" font-size="7.85" font-weight="bold" fill="#1a1a1a" stroke="#1a1a1a" stroke-width="0.25">10</text>
<text transform="translate(135.72,331.60) scale(1.0232,1)" font-size="7.85" font-weight="bold" fill="#1a1a1a" stroke="#1a1a1a" stroke-width="0.25">V</text>
<text transform="translate(185.14,260.90) scale(0.9853,1)" font-size="8.15" font-weight="normal" fill="#1a1a1a" stroke="#1a1a1a" stroke-width="0.1">P= 0.0363</text>
<text transform="translate(170.93,331.60) scale(1.1586,1)" font-size="7.85" font-weight="bold" fill="#1a1a1a" stroke="#1a1a1a" stroke-width="0.25">0</text>
<text transform="translate(188.35,331.60) scale(1.0334,1)" font-size="7.85" font-weight="bold" fill="#1a1a1a" stroke="#1a1a1a" stroke-width="0.25">1</text>
<text transform="translate(205.89,331.60) scale(1.3041,1)" font-size="7.85" font-weight="bold" fill="#1a1a1a" stroke="#1a1a1a" stroke-width="0.25">5</text>
<text transform="translate(221.50,331.60) scale(1.1170,1)" font-size="7.85" font-weight="bold" fill="#1a1a1a" stroke="#1a1a1a" stroke-width="0.25">10</text>
<text transform="translate(240.81,331.60) scale(1.1848,1)" font-size="7.85" font-weight="bold" fill="#1a1a1a" stroke="#1a1a1a" stroke-width="0.25">V</text>
<text transform="translate(298.36,169.40) scale(0.9701,1)" font-size="14.31" font-weight="bold" fill="#1a1a1a" stroke="#1a1a1a" stroke-width="0.25">D</text>
<text transform="translate(372.41,211.90) scale(0.9418,1)" font-size="9.38" font-weight="bold" fill="#1a1a1a" stroke="#1a1a1a" stroke-width="0.25">THP-1</text>
<text transform="translate(331.30,279.39) scale(1.0000,1)" font-size="8.09" font-weight="normal" fill="#1a1a1a" stroke="#1a1a1a" stroke-width="0.1">0</text>
<text transform="translate(327.25,267.29) scale(1.0000,1)" font-size="8.09" font-weight="normal" fill="#1a1a1a" stroke="#1a1a1a" stroke-width="0.1">25</text>
<text transform="translate(327.25,255.19) scale(1.0000,1)" font-size="8.09" font-weight="normal" fill="#1a1a1a" stroke="#1a1a1a" stroke-width="0.1">50</text>
<text transform="translate(327.14,243.09) scale(1.0000,1)" font-size="8.21" font-weight="normal" fill="#1a1a1a" stroke="#1a1a1a" stroke-width="0.1">75</text>
<text transform="translate(323.21,230.99) scale(1.0000,1)" font-size="8.09" font-weight="normal" fill="#1a1a1a" stroke="#1a1a1a" stroke-width="0.1">100</text>
<text transform="translate(323.21,218.89) scale(1.0000,1)" font-size="8.09" font-weight="normal" fill="#1a1a1a" stroke="#1a1a1a" stroke-width="0.1">125</text>
<text transform="translate(313.79,274.82) rotate(-90) scale(1.1697,1)" font-size="6.85" font-weight="bold" fill="#1a1a1a" stroke="#1a1a1a" stroke-width="0.25">Cytotoxicity (%)</text>
<text transform="translate(308.19,286.80) scale(1.0440,1)" font-size="7.54" font-weight="bold" fill="#1a1a1a" stroke="#1a1a1a" stroke-width="0.25">Cav (μM)</text>
<text transform="translate(346.26,286.70) scale(1.0552,1)" font-size="7.54" font-weight="bold" fill="#1a1a1a" stroke="#1a1a1a" stroke-width="0.25">0</text>
<text transform="translate(359.34,286.70) scale(0.9322,1)" font-size="7.54" font-weight="bold" fill="#1a1a1a" stroke="#1a1a1a" stroke-width="0.25">1</text>
<text transform="translate(376.77,286.70) scale(1.1106,1)" font-size="7.54" font-weight="bold" fill="#1a1a1a" stroke="#1a1a1a" stroke-width="0.25">5</text>
<text transform="translate(390.49,286.70) scale(1.1775,1)" font-size="7.54" font-weight="bold" fill="#1a1a1a" stroke="#1a1a1a" stroke-width="0.25">10</text>
<text transform="translate(408.92,286.70) scale(1.0836,1)" font-size="7.54" font-weight="bold" fill="#1a1a1a" stroke="#1a1a1a" stroke-width="0.25">V</text>
<text transform="translate(423.12,286.70) scale(1.0298,1)" font-size="7.54" font-weight="bold" fill="#1a1a1a" stroke="#1a1a1a" stroke-width="0.25">H</text>
<text transform="translate(484.81,211.90) scale(0.9945,1)" font-size="8.92" font-weight="bold" fill="#1a1a1a" stroke="#1a1a1a" stroke-width="0.25">Huh-7</text>
<text transform="translate(441.50,279.19) scale(1.0000,1)" font-size="8.09" font-weight="normal" fill="#1a1a1a" stroke="#1a1a1a" stroke-width="0.1">0</text>
<text transform="translate(437.45,267.09) scale(1.0000,1)" font-size="8.09" font-weight="normal" fill="#1a1a1a" stroke="#1a1a1a" stroke-width="0.1">25</text>
<text transform="translate(437.45,254.99) scale(1.0000,1)" font-size="8.09" font-weight="normal" fill="#1a1a1a" stroke="#1a1a1a" stroke-width="0.1">50</text>
<text transform="translate(437.34,242.89) scale(1.0000,1)" font-size="8.21" font-weight="normal" fill="#1a1a1a" stroke="#1a1a1a" stroke-width="0.1">75</text>
<text transform="translate(433.41,230.79) scale(1.0000,1)" font-size="8.09" font-weight="normal" fill="#1a1a1a" stroke="#1a1a1a" stroke-width="0.1">100</text>
<text transform="translate(433.41,218.69) scale(1.0000,1)" font-size="8.09" font-weight="normal" fill="#1a1a1a" stroke="#1a1a1a" stroke-width="0.1">125</text>
<text transform="translate(458.25,287.10) scale(1.1080,1)" font-size="7.38" font-weight="bold" fill="#1a1a1a" stroke="#1a1a1a" stroke-width="0.25">0</text>
<text transform="translate(471.09,287.10) scale(1.0248,1)" font-size="7.38" font-weight="bold" fill="#1a1a1a" stroke="#1a1a1a" stroke-width="0.25">1</text>
<text transform="translate(488.05,287.10) scale(1.1967,1)" font-size="7.38" font-weight="bold" fill="#1a1a1a" stroke="#1a1a1a" stroke-width="0.25">5</text>
<text transform="translate(501.91,287.10) scale(1.1716,1)" font-size="7.38" font-weight="bold" fill="#1a1a1a" stroke="#1a1a1a" stroke-width="0.25">10</text>
<text transform="translate(521.13,287.10) scale(0.9536,1)" font-size="7.38" font-weight="bold" fill="#1a1a1a" stroke="#1a1a1a" stroke-width="0.25">V</text>
<text transform="translate(534.82,287.10) scale(1.0156,1)" font-size="7.38" font-weight="bold" fill="#1a1a1a" stroke="#1a1a1a" stroke-width="0.25">H</text>
</g>
</svg>
</body></html>
